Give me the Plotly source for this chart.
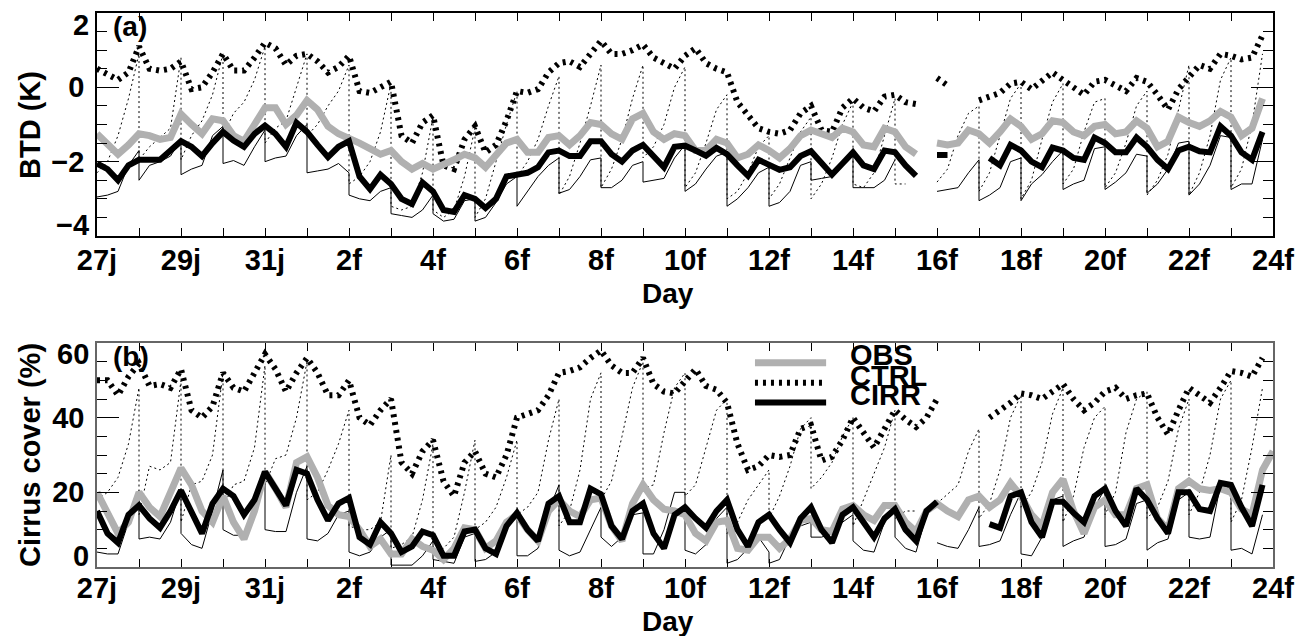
import plotly.graph_objects as go

# ── Time axis: days since 27 Jan 00Z, 6-hourly for the thick curves ──────────
T6 = [i / 4 for i in range(113)]
SEG_OFF = [0.0, 0.25, 0.5, 0.75, 1.0]      # hours 0,6,12,18,24 of each daily run
DAY_TICKS = list(range(0, 29, 2))
DAY_LABELS = ["27j", "29j", "31j", "2f", "4f", "6f", "8f", "10f", "12f",
              "14f", "16f", "18f", "20f", "22f", "24f"]

# ── Panel (a): BTD (K) ───────────────────────────────────────────────────────
btd_obs = [
    -1.25, -1.5, -1.8, -1.55,   -1.25, -1.3, -1.4, -1.35,   -0.72, -1.0, -1.25, -0.85,
    -0.9, -1.3, -1.45, -1.0,    -0.55, -0.55, -1.0, -0.75,  -0.35, -0.6, -1.05, -1.25,
    -1.35, -1.5, -1.65, -1.8,   -1.7, -2.0, -2.2, -2.05,    -2.2, -2.1, -1.95, -1.8,
    -1.9, -2.15, -1.85, -1.5,   -1.4, -1.75, -1.75, -1.35,  -1.3, -1.55, -1.3, -0.95,
    -1.0, -1.25, -1.4, -0.85,   -0.7, -1.2, -1.4, -1.25,    -1.3, -1.7, -1.7, -1.4,
    -1.5, -1.9, -1.8, -1.55,    -1.7, -1.9, -1.65, -1.3,    -1.15, -1.25, -1.35, -1.1,
    -1.2, -1.55, -1.6, -1.1,    -1.2, -1.6, -1.8, None,     -1.5, -1.55, -1.5, -1.15,
    -1.25, -1.5, -1.2, -0.85,   -1.05, -1.4, -1.25, -0.9,   -0.95, -1.2, -1.3, -1.05,
    -1.0, -1.25, -1.2, -0.9,    -1.1, -1.6, -1.45, -0.8,    -0.95, -1.05, -0.9, -0.65,
    -0.8, -1.3, -1.1, -0.3,     None,
]
btd_cirr = [
    -2.05, -2.2, -2.5, -2.1,    -1.95, -1.93, -1.95, -1.7,  -1.45, -1.6, -1.85, -1.5,
    -1.2, -1.43, -1.6, -1.25,   -1.03, -1.25, -1.6, -0.95,  -1.2, -1.55, -1.88, -1.6,
    -1.45, -2.4, -2.74, -2.35,  -2.6, -3.0, -3.14, -2.56,   -2.8, -3.3, -3.35, -2.9,
    -3.0, -3.25, -3.0, -2.4,    -2.35, -2.3, -2.15, -1.75,  -1.7, -1.85, -1.85, -1.45,
    -1.45, -1.8, -2.0, -1.7,    -1.55, -1.85, -2.15, -1.6,  -1.57, -1.7, -1.84, -1.63,
    -1.8, -2.1, -2.38, -1.95,   -2.1, -2.22, -2.15, -1.85,  -1.72, -2.05, -2.35, -2.05,
    -1.75, -2.1, -2.2, -1.7,    -1.75, -2.1, -2.38, None,   -1.82, -1.82, None, None,
    None, -1.9, -2.1, -1.55,    -1.7, -2.0, -2.15, -1.62,   -1.7, -1.9, -1.95, -1.35,
    -1.5, -1.75, -1.75, -1.35,  -1.6, -1.95, -2.2, -1.7,    -1.6, -1.72, -1.75, -1.05,
    -1.3, -1.75, -1.95, -1.2,   None,
]
btd_ctrl = [
    0.5, 0.35, 0.2, 0.4,        1.1, 0.5, 0.45, 0.5,        0.7, -0.05, 0.0, 0.4,
    0.9, 0.45, 0.45, 0.8,       1.2, 1.05, 0.6, 0.85,       0.9, 0.7, 0.4, 0.55,
    0.85, -0.1, -0.15, 0.0,     0.15, -1.3, -1.5, -0.95,    -0.75, -2.1, -2.2, -1.4,
    -1.05, -1.75, -1.55, -0.9,  -0.1, -0.15, -0.05, 0.4,    0.65, 0.7, 0.55, 0.9,
    1.25, 0.9, 0.9, 1.0,        1.15, 0.8, 0.65, 0.5,       0.85, 1.05, 0.65, 0.5,
    0.4, -0.4, -0.75, -1.1,     -1.2, -1.25, -1.15, -0.7,   -0.5, -1.15, -1.2, -0.55,
    -0.3, -0.55, -0.65, -0.25,  -0.2, -0.4, -0.45, None,    0.25, 0.05, None, None,
    -0.35, -0.25, -0.15, 0.1,   0.15, -0.05, 0.2, 0.4,      0.2, 0.0, -0.2, 0.15,
    0.2, 0.05, -0.1, 0.25,      0.15, -0.2, -0.6, -0.05,    0.3, 0.6, 0.5, 0.9,
    0.85, 0.75, 0.8, 1.4,       None,
]
# daily runs (thin lines), one row per day, values at +0/6/12/18/24 h
btd_run_dot = [
    [-2.3, -2.0, -1.3, -0.3, 0.9], [-1.95, -1.6, -1.35, -1.1, 0.8],
    [-1.95, -1.3, -0.9, -0.2, 0.9], [-1.3, -0.7, -0.4, 0.2, 1.1],
    [-1.5, -1.1, -0.9, 0.0, 0.9], [-1.3, -1.0, -0.5, -0.1, 0.6],
    [-2.6, -2.4, -2.0, -1.2, 0.1], [-3.2, -3.3, -3.2, -2.3, -0.8],
    [-3.3, -3.5, -3.3, -2.4, -1.1], [-3.5, -3.0, -2.0, -1.0, -0.1],
    [-2.4, -2.0, -1.4, -0.5, 0.3], [-2.9, -2.4, -1.5, -0.5, 0.6],
    [-2.7, -2.2, -1.4, -0.3, 0.6], [-1.9, -1.6, -1.0, 0.0, 0.55],
    [-2.7, -2.3, -1.5, -0.6, -0.2], [-3.0, -2.8, -2.3, -1.6, -1.3],
    [-3.0, -2.6, -1.9, -1.2, -0.8], [-3.0, -2.6, -1.9, -1.0, -0.4],
    [-2.6, -2.7, -2.3, -1.3, -0.3], [-2.6, -2.6, None, None, None],
    [-2.55, -2.2, -1.3, -0.7, -0.5], [-2.8, -2.3, -1.3, -0.3, 0.1],
    [-3.0, -2.5, -1.4, -0.4, 0.1], [-2.6, -2.2, -1.2, -0.4, -0.3],
    [-2.7, -2.3, -1.5, -0.5, -0.1], [-2.9, -2.5, -1.8, -0.6, 0.6],
    [-2.9, -2.3, -1.3, 0.2, 0.8], [-2.7, -2.2, -1.0, 0.9, None],
]
btd_run_sol = [
    [-2.95, -2.9, -2.8, -2.1, -1.7], [-2.5, -2.1, -2.0, -1.85, -1.4],
    [-2.35, -2.2, -2.1, -1.3, -1.05], [-2.05, -1.97, -2.1, -1.6, -1.15],
    [-2.0, -1.9, -1.85, -1.3, -1.0], [-2.3, -2.25, -2.2, -2.05, -2.3],
    [-2.9, -3.0, -3.05, -2.8, -2.7], [-3.4, -3.45, -3.5, -3.3, -2.9],
    [-3.4, -3.6, -3.55, -3.05, -3.0], [-3.6, -3.5, -3.1, -2.6, -2.4],
    [-3.2, -2.8, -2.4, -2.1, -1.9], [-2.85, -2.75, -2.4, -1.95, -1.9],
    [-2.7, -2.7, -2.5, -2.1, -2.0], [-2.55, -2.5, -2.45, -1.9, -1.55],
    [-2.8, -2.6, -2.2, -1.85, -1.75], [-3.2, -3.0, -2.7, -2.3, -2.15],
    [-3.2, -3.1, -2.8, -2.1, -2.0], [-2.5, -2.45, -2.4, -2.0, -1.7],
    [-2.7, -2.7, -2.7, -2.5, -1.95], [None, None, None, None, None],
    [-2.8, -2.75, -2.7, -2.3, -1.95], [-3.05, -2.9, -2.7, -2.0, -1.9],
    [-3.05, -2.6, -2.35, -2.0, -1.7], [-2.75, -2.6, -2.5, -1.65, -1.6],
    [-2.75, -2.55, -2.3, -1.8, -1.85], [-2.85, -2.6, -2.2, -1.5, -1.45],
    [-2.9, -2.6, -2.1, -1.3, -1.35], [-2.75, -2.6, -2.6, -1.4, None],
]

# ── Panel (b): cirrus cover (%) ──────────────────────────────────────────────
cc_obs = [
    20, 14.5, 9, 12,      20, 16, 13.5, 20,     26.5, 22, 15, 12,     19, 12, 7.5, 15,
    25.5, 21, 16, 28,     29.5, 24, 16.5, 14,   13.5, 10, 5.5, 7.5,   3.5, 3.5, 7.5, 5.5,
    4.5, 2, 5, 10.5,      10, 5, 7, 12,         14, 10, 7, 15,        18, 15, 13.5, 18,
    18.5, 11, 7, 17,      22, 18, 15.5, 15,     14, 9, 7, 12,         12.5, 5, 4.5, 8,
    8, 5, 7.5, 12.5,      13, 10, 9.5, 15.5,    16.5, 14, 12.5, 16.5, 16.5, 12, 9.5, 15,
    17, 15, 13.5, 18,     19, 16, 18, 22.5,     19, 14, 11, 20,       23.5, 15, 9, 16,
    18, 14, 14, 21,       22, 13, 10, 21,       23, 21, 20.5, 21,     20, 15.5, 14, 26,
    31,
]
cc_cirr = [
    15, 9, 6.5, 14,       16.5, 13, 10.5, 15,   20.5, 15, 9, 17,      21, 19, 14, 18,
    25.5, 21, 16.5, 26,   25, 18, 12.5, 17,     18.5, 8, 6, 12,       9, 4, 5.5, 9.5,
    8.5, 3, 3, 9.5,       10, 5, 3.5, 11,       14.5, 10, 7, 17,      19, 12, 12, 21,
    19.5, 11, 7.5, 15,    17, 9, 5, 14,         16, 13, 10.5, 15,     18, 10, 5.5, 12,
    14, 10, 6.5, 13,      16, 10, 6.5, 14,      16, 12, 8, 13,        15.5, 10, 7, 15,
    17.5, None, None, None, None, 11.5, 10.5, 19, 20, 12, 8, 17.5,    17.5, 14.5, 12, 19,
    21, 15, 11, 21,       18, 13, 9, 20,        20, 15.5, 15, 22.5,   22, 16, 11, 22,
    None,
]
cc_ctrl = [
    50, 50, 46, 51,       54.5, 48.5, 49, 48,   53, 42, 40, 43,       52, 48, 47, 52,
    57, 53, 47, 52,       56, 52, 46, 46,       50, 40, 38, 42,       45, 28, 25, 31,
    34, 23, 19, 28,       31, 25, 24, 30,       40, 41, 42, 46,       52, 52.5, 53.5, 56,
    58, 54, 52, 52,       56, 49, 47, 46.5,     50, 53, 48.5, 47.5,   44, 33, 26, 27,
    30, 29.5, 30, 37,     38, 28.5, 29.5, 34,   40, 36, 32, 37,       42, 39.5, 37.5, 40,
    45, None, None, None, None, 40, 42, 44,     46.5, 46, 45, 47,     49, 45, 42, 44,
    47, 48, 45, 46,       46.5, 40, 35.5, 42,   48, 46, 44, 48,       52.5, 52, 51, 56,
    None,
]
cc_run_dot = [
    [18, 20, 24, 33, 48], [14, 27, 26, 28, 50], [12, 22, 23, 30, 52],
    [16, 22, 23, 32, 54], [22, 29, 30, 40, 55], [18, 20, 26, 33, 42],
    [11, 10, 10, 12, 30], [5, 6, 8, 18, 33], [4, 5, 8, 20, 34],
    [10, 12, 16, 24, 34], [14, 16, 20, 34, 45], [11, 15, 26, 45, 52],
    [18, 23, 35, 48, 55], [21, 22, 36, 48, 52], [19, 22, 32, 42, 45],
    [9, 12, 18, 22, 26], [13, 19, 27, 37, 40], [21, 24, 28, 35, 40],
    [11, 18, 25, 32, 42], [13, 15, 15, None, None], [17, 19.5, 22, 31, 37],
    [13, 17, 26, 40, 46], [16, 20, 28, 41, 48], [12, 19, 32, 40, 43],
    [14, 20, 36, 45, 47], [13, 16, 23, 37, 45], [14, 20, 30, 45, 50],
    [12, 18, 32, 48, None],
]
cc_run_sol = [
    [4, 3.5, 3.5, 12, 20.5], [7.5, 8, 7.5, 12, 21], [9, 6, 5, 15, 26],
    [10, 8.5, 8.5, 16, 25], [10, 9.5, 9.5, 20, 27], [7.5, 7, 9, 14, 15],
    [4, 3, 4, 8, 10], [0.5, 0.5, 0.5, 3, 7], [2, 1.5, 1, 8, 9],
    [1.5, 2, 4, 10, 14], [3, 3, 5, 15, 22], [4.5, 3, 4, 10, 16],
    [8, 5.5, 8, 14, 14.5], [3.5, 3.5, 10, 20, 20], [4.5, 3.5, 6, 13, 16],
    [1, 2, 5, 8, 4], [1, 2, 8, 11, 12], [8, 8, 9, 12, 14],
    [7, 4.5, 4, 12, 16], [8, 5, 4, 14, None], [6.5, 5.5, 5, 10, 16],
    [5.5, 6, 7, 14, 20], [3.5, 3, 8, 18, 19], [5.5, 7, 8, 16, 21],
    [5.5, 6, 7.5, 17, 18], [4.5, 6.5, 7.5, 18, 20], [8, 7.5, 8, 22, 21],
    [4.5, 5, 3.5, 14, None],
]

# y tick labels; the end labels sit a little inside the frame, as in the original
BTD_TICKS, BTD_TEXT = [-4, -2, 0, 2], ["", "\u22122", "0", ""]
CC_TICKS, CC_TEXT = [0, 20, 40, 60], ["", "20", "40", ""]
END_LABELS = [("2", 25), ("\u22124", 225), ("60", 354), ("0", 556)]   # (text, px row)

# ── Styling ──────────────────────────────────────────────────────────────────
FONT = "Liberation Sans"
GRAY = "#b0b0b0"
THICK_DOT = "3px,5px"
THIN_DOT = "2px,3px"


def runs_xy(runs):
    """Flatten daily runs into one polyline; each run restarts at its day."""
    xs, ys = [], []
    for day, vals in enumerate(runs):
        for off, v in zip(SEG_OFF, vals):
            xs.append(day + off)
            ys.append(v)
    return xs, ys


def add_panel(fig, xa, ya, obs, cirr, ctrl, run_dot, run_sol):
    x, y = runs_xy(run_sol)
    fig.add_trace(go.Scatter(x=x, y=y, mode="lines", xaxis=xa, yaxis=ya,
                             line=dict(color="black", width=1), showlegend=False))
    x, y = runs_xy(run_dot)
    fig.add_trace(go.Scatter(x=x, y=y, mode="lines", xaxis=xa, yaxis=ya,
                             line=dict(color="black", width=1, dash=THIN_DOT),
                             showlegend=False))
    fig.add_trace(go.Scatter(x=T6, y=ctrl, mode="lines", xaxis=xa, yaxis=ya,
                             line=dict(color="black", width=6, dash=THICK_DOT),
                             showlegend=False))
    fig.add_trace(go.Scatter(x=T6, y=obs, mode="lines", xaxis=xa, yaxis=ya,
                             line=dict(color=GRAY, width=7), showlegend=False))
    fig.add_trace(go.Scatter(x=T6, y=cirr, mode="lines", xaxis=xa, yaxis=ya,
                             line=dict(color="black", width=6), showlegend=False))


fig = go.Figure()
add_panel(fig, "x", "y", btd_obs, btd_cirr, btd_ctrl, btd_run_dot, btd_run_sol)
add_panel(fig, "x2", "y2", cc_obs, cc_cirr, cc_ctrl, cc_run_dot, cc_run_sol)

tickfont = dict(family=FONT, size=29, color="black", weight="bold")


def x_axis(anchor, standoff, linecolor):
    return dict(
        anchor=anchor, domain=[0, 1], range=[0, 28], automargin=False,
        tickmode="array", tickvals=DAY_TICKS, ticktext=DAY_LABELS,
        ticks="inside", ticklen=8, tickwidth=1, tickcolor="black",
        minor=dict(dtick=1, tick0=0, ticks="inside", ticklen=8, tickcolor="black"),
        showline=True, linecolor=linecolor, linewidth=1.5, mirror="allticks",
        showgrid=False, zeroline=False, tickfont=tickfont,
        ticklabelstandoff=standoff, ticklabeloverflow="allow",
    )


def y_axis(anchor, domain, rng, major, text, minor, linecolor):
    return dict(
        anchor=anchor, domain=domain, range=rng, automargin=False,
        tickmode="array", tickvals=major, ticktext=text,
        ticks="inside", ticklen=22, tickwidth=1, tickcolor="black",
        minor=dict(dtick=minor, ticks="inside", ticklen=10, tickcolor="black"),
        showline=True, linecolor=linecolor, linewidth=1.5, mirror="allticks",
        showgrid=False, zeroline=False, tickfont=tickfont, ticklabelstandoff=5,
        ticklabeloverflow="allow",
    )


bold = dict(family=FONT, size=29, color="black", weight="bold")
ann = dict(showarrow=False, xanchor="center", yanchor="middle", font=bold)
annotations = [
    dict(text="BTD (K)", xref="paper", yref="paper", x=-0.057,
         y=(567 - 125) / 554, textangle=-90, **ann),
    dict(text="Cirrus cover (%)", xref="paper", yref="paper", x=-0.057,
         y=(567 - 455) / 554, textangle=-90, **ann),
    dict(text="Day", xref="paper", yref="paper", x=0.4855, y=(567 - 293) / 554,
         showarrow=False, xanchor="center", yanchor="middle",
         font=dict(bold, size=28)),
    dict(text="Day", xref="paper", yref="paper", x=0.4855, y=(567 - 621) / 554,
         showarrow=False, xanchor="center", yanchor="middle",
         font=dict(bold, size=28)),
    dict(text="(a)", xref="paper", yref="paper", x=(111 - 97) / 1176,
         y=(567 - 26) / 554, showarrow=False, xanchor="left", yanchor="middle",
         font=dict(bold, size=28)),
    dict(text="(b)", xref="paper", yref="paper", x=(111 - 97) / 1176,
         y=(567 - 357) / 554, showarrow=False, xanchor="left", yanchor="middle",
         font=dict(bold, size=28)),
]
for text, row in END_LABELS:
    annotations.append(dict(text=text, xref="paper", yref="paper",
                            x=(91 - 97) / 1176, y=(567 - row) / 554,
                            xanchor="right", yanchor="middle", showarrow=False,
                            font=bold))

# legend drawn by hand (sample line + overlapping bold labels, as in the original)
legend_items = [("OBS", dict(color=GRAY, width=7), 0.912, 0.946),
                ("CTRL", dict(color="black", width=6, dash=THICK_DOT), 0.823, 0.853),
                ("CIRR", dict(color="black", width=6), 0.734, 0.768)]
shapes = []
for name, line, ly, ty in legend_items:
    shapes.append(dict(type="line", xref="x2 domain", yref="y2 domain",
                       x0=0.5595, x1=0.620, y0=ly, y1=ly, line=line))
    annotations.append(dict(text=name, xref="x2 domain", yref="y2 domain",
                            x=0.6386, y=ty, xanchor="left", yanchor="middle",
                            showarrow=False, font=dict(bold, size=29)))

fig.update_layout(
    width=1297, height=636,
    margin=dict(l=97, r=24, t=13, b=69, autoexpand=False),
    paper_bgcolor="white", plot_bgcolor="white",
    showlegend=False,
    xaxis=x_axis("y", -3, "black"),
    yaxis=y_axis("x", [0.5975, 1], [-4, 2], BTD_TICKS, BTD_TEXT, 0.5, "black"),
    xaxis2=x_axis("y2", -6, "#666666"),
    yaxis2=y_axis("x2", [0, 0.4043], [0, 60], CC_TICKS, CC_TEXT, 5, "#666666"),
    annotations=annotations,
    shapes=shapes,
)

# drop the default page margin so the figure sits at the window's top-left
fig.write_html("out.html",
               config={"displayModeBar": False},
               post_script="document.body.style.margin='0px';"
                           "document.body.style.overflow='hidden';")
